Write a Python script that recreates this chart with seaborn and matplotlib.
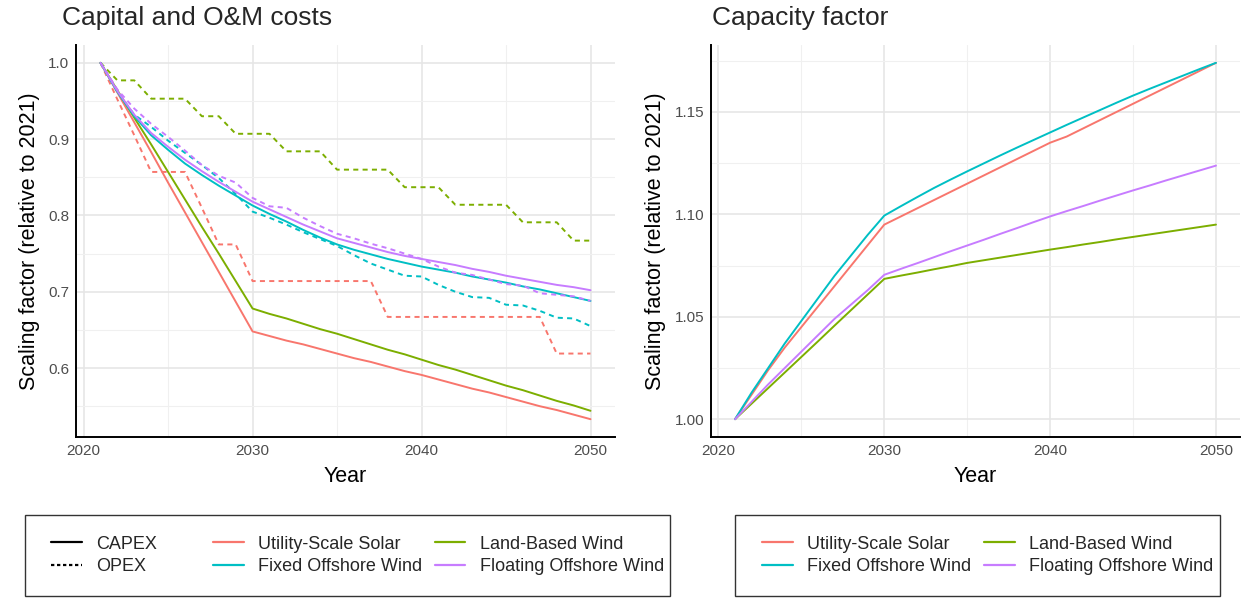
import matplotlib
matplotlib.use("Agg")
import matplotlib.pyplot as plt
from matplotlib.lines import Line2D
from matplotlib.patches import Rectangle
from matplotlib.ticker import MultipleLocator, FormatStrFormatter
import pandas as pd
import seaborn as sns

# ---- data -------------------------------------------------------------
years = list(range(2021, 2051))
techs = ["Utility-Scale Solar", "Land-Based Wind",
         "Fixed Offshore Wind", "Floating Offshore Wind"]
colors = ["#F8766D", "#7CAE00", "#00BFC4", "#C77CFF"]

solar_capex = [1.000, 0.961, 0.922, 0.883, 0.843, 0.804, 0.765, 0.726, 0.687, 0.648,
               0.642, 0.636, 0.631, 0.625, 0.619, 0.613, 0.608, 0.602, 0.596, 0.591,
               0.585, 0.579, 0.573, 0.568, 0.562, 0.556, 0.550, 0.545, 0.539, 0.533]
land_capex = [1.000, 0.964, 0.928, 0.893, 0.857, 0.821, 0.785, 0.750, 0.714, 0.678,
              0.671, 0.665, 0.658, 0.651, 0.645, 0.638, 0.631, 0.624, 0.618, 0.611,
              0.604, 0.598, 0.591, 0.584, 0.577, 0.571, 0.564, 0.557, 0.551, 0.544]
fixed_capex = [1.000, 0.962, 0.930, 0.905, 0.886, 0.868, 0.853, 0.839, 0.826, 0.813,
               0.802, 0.792, 0.781, 0.771, 0.762, 0.755, 0.749, 0.743, 0.738, 0.733,
               0.729, 0.725, 0.720, 0.716, 0.712, 0.707, 0.703, 0.698, 0.693, 0.688]
floating_capex = [1.000, 0.963, 0.932, 0.908, 0.890, 0.873, 0.858, 0.844, 0.831, 0.818,
                  0.808, 0.798, 0.788, 0.779, 0.770, 0.764, 0.758, 0.752, 0.747, 0.743,
                  0.739, 0.735, 0.730, 0.726, 0.721, 0.717, 0.713, 0.709, 0.706, 0.702]

solar_opex = [1.000, 0.952, 0.905, 0.857, 0.857, 0.857, 0.810, 0.762, 0.762, 0.714,
              0.714, 0.714, 0.714, 0.714, 0.714, 0.714, 0.714, 0.667, 0.667, 0.667,
              0.667, 0.667, 0.667, 0.667, 0.667, 0.667, 0.667, 0.619, 0.619, 0.619]
land_opex = [1.000, 0.977, 0.977, 0.953, 0.953, 0.953, 0.930, 0.930, 0.907, 0.907,
             0.907, 0.884, 0.884, 0.884, 0.860, 0.860, 0.860, 0.860, 0.837, 0.837,
             0.837, 0.814, 0.814, 0.814, 0.814, 0.791, 0.791, 0.791, 0.767, 0.767]
fixed_opex = [1.000, 0.962, 0.932, 0.916, 0.898, 0.882, 0.866, 0.849, 0.828, 0.805,
              0.797, 0.788, 0.778, 0.769, 0.760, 0.748, 0.737, 0.729, 0.721, 0.720,
              0.709, 0.700, 0.693, 0.692, 0.683, 0.682, 0.675, 0.666, 0.665, 0.655]
floating_opex = [1.000, 0.965, 0.940, 0.920, 0.903, 0.885, 0.866, 0.852, 0.843, 0.823,
                 0.812, 0.810, 0.797, 0.786, 0.776, 0.770, 0.763, 0.757, 0.750, 0.743,
                 0.733, 0.725, 0.722, 0.716, 0.710, 0.708, 0.698, 0.696, 0.694, 0.688]

solar_cf = [1.000, 1.012, 1.024, 1.035, 1.045, 1.055, 1.065, 1.075, 1.085, 1.095,
            1.099, 1.103, 1.107, 1.111, 1.115, 1.119, 1.123, 1.127, 1.131, 1.135,
            1.138, 1.142, 1.146, 1.150, 1.154, 1.158, 1.162, 1.166, 1.170, 1.174]
land_cf = [1.000, 1.0076, 1.0152, 1.0228, 1.0304, 1.0380, 1.0457, 1.0533, 1.0609, 1.0685,
           1.0701, 1.0716, 1.0732, 1.0747, 1.0763, 1.0776, 1.0789, 1.0802, 1.0815, 1.0828,
           1.0840, 1.0853, 1.0865, 1.0878, 1.0890, 1.0902, 1.0914, 1.0926, 1.0938, 1.0950]
fixed_cf = [1.000, 1.013, 1.025, 1.037, 1.048, 1.059, 1.070, 1.080, 1.090, 1.0994,
            1.1040, 1.1085, 1.1129, 1.1170, 1.1210, 1.1249, 1.1288, 1.1326, 1.1363, 1.1400,
            1.1437, 1.1473, 1.1509, 1.1545, 1.1580, 1.1613, 1.1645, 1.1677, 1.1709, 1.1740]
floating_cf = [1.000, 1.0085, 1.017, 1.025, 1.033, 1.041, 1.049, 1.056, 1.063, 1.0705,
               1.0734, 1.0762, 1.0791, 1.0820, 1.0848, 1.0876, 1.0905, 1.0933, 1.0962, 1.0990,
               1.1016, 1.1041, 1.1067, 1.1092, 1.1117, 1.1141, 1.1166, 1.1190, 1.1214, 1.1238]

cost_series = {
    "Utility-Scale Solar": (solar_capex, solar_opex),
    "Land-Based Wind": (land_capex, land_opex),
    "Fixed Offshore Wind": (fixed_capex, fixed_opex),
    "Floating Offshore Wind": (floating_capex, floating_opex),
}
cf_series = {
    "Utility-Scale Solar": solar_cf,
    "Land-Based Wind": land_cf,
    "Fixed Offshore Wind": fixed_cf,
    "Floating Offshore Wind": floating_cf,
}

cost_rows = []
for tech, (capex, opex) in cost_series.items():
    for yr, c, o in zip(years, capex, opex):
        cost_rows.append((tech, "CAPEX", yr, c))
        cost_rows.append((tech, "OPEX", yr, o))
cost_df = pd.DataFrame(cost_rows, columns=["Technology", "Cost", "Year", "Scaling"])

cf_rows = []
for tech, vals in cf_series.items():
    for yr, v in zip(years, vals):
        cf_rows.append((tech, yr, v))
cf_df = pd.DataFrame(cf_rows, columns=["Technology", "Year", "Scaling"])

palette = dict(zip(techs, colors))

# ---- style ------------------------------------------------------------
sns.set_theme(style="white")
plt.rcParams["font.family"] = ["Liberation Sans", "DejaVu Sans"]

W, H = 1245, 598
fig = plt.figure(figsize=(W / 100, H / 100), dpi=100)


def px_axes(left, top, right, bottom):
    return fig.add_axes([left / W, 1 - bottom / H, (right - left) / W, (bottom - top) / H])


def expanded(lo, hi, frac=0.05):
    pad = (hi - lo) * frac
    return lo - pad, hi + pad


def style_axes(ax, ylo, yhi, ymajor):
    ax.set_xlim(*expanded(years[0], years[-1]))
    ax.set_ylim(*expanded(ylo, yhi))
    ax.xaxis.set_major_locator(MultipleLocator(10))
    ax.xaxis.set_minor_locator(MultipleLocator(5))
    ax.yaxis.set_major_locator(MultipleLocator(ymajor))
    ax.yaxis.set_minor_locator(MultipleLocator(ymajor / 2))
    ax.grid(which="major", color="#E6E6E6", lw=1.2, zorder=0)
    ax.grid(which="minor", color="#F0F0F0", lw=0.8, zorder=0)
    ax.set_axisbelow(True)
    for s in ("top", "right"):
        ax.spines[s].set_visible(False)
    for s in ("left", "bottom"):
        ax.spines[s].set_color("black")
        ax.spines[s].set_linewidth(1.4)
    ax.tick_params(which="both", length=0, pad=5, labelsize=11, colors="#4D4D4D")
    ax.set_xlabel("Year", fontsize=15.5, color="black", labelpad=6)
    ax.set_ylabel("Scaling factor (relative to 2021)", fontsize=15.5, color="black", labelpad=6)


# ---- left panel: capital and O&M costs ---------------------------------
ax1 = px_axes(76, 45, 615, 437)
sns.lineplot(data=cost_df, x="Year", y="Scaling", hue="Technology", style="Cost",
             hue_order=techs, style_order=["CAPEX", "OPEX"], palette=palette,
             dashes={"CAPEX": "", "OPEX": (2.6, 2.2)}, lw=1.4,
             estimator=None, legend=False, ax=ax1)
style_axes(ax1, min(solar_capex), 1.0, 0.1)
ax1.yaxis.set_major_formatter(FormatStrFormatter("%.1f"))

# ---- right panel: capacity factor --------------------------------------
ax2 = px_axes(711, 45, 1240, 437)
sns.lineplot(data=cf_df, x="Year", y="Scaling", hue="Technology",
             hue_order=techs, palette=palette, lw=1.4,
             estimator=None, legend=False, ax=ax2)
style_axes(ax2, 1.0, max(fixed_cf), 0.05)
ax2.yaxis.set_major_formatter(FormatStrFormatter("%.2f"))

fig.text(62 / W, 1 - 18 / H, "Capital and O&M costs", fontsize=19,
         ha="left", va="center")
fig.text(712 / W, 1 - 18 / H, "Capacity factor", fontsize=19,
         ha="left", va="center")

# ---- legends -------------------------------------------------------------
def line_handle(color, ls="-"):
    return Line2D([], [], color=color, lw=1.6, ls=ls)


def legend_frame(x0, x1, top, bottom):
    fig.add_artist(Rectangle((x0 / W, 1 - bottom / H), (x1 - x0) / W, (bottom - top) / H,
                             transform=fig.transFigure, fill=False,
                             edgecolor="#333333", lw=1.0))


def place_legend(handles, labels, x, ycen, ncol, colspacing=2.0):
    leg = fig.legend(handles, labels, ncol=ncol, loc="center left",
                     bbox_to_anchor=(x / W, 1 - ycen / H), frameon=False,
                     fontsize=13, handlelength=1.7, handletextpad=0.8,
                     labelspacing=0.3, borderpad=0, borderaxespad=0,
                     columnspacing=colspacing)
    return leg


LEG_TOP, LEG_BOTTOM = 515, 596
LEG_MID = (LEG_TOP + LEG_BOTTOM) / 2

# left: line type key and technology key in one frame
legend_frame(25, 670, LEG_TOP, LEG_BOTTOM)
place_legend([line_handle("black"), line_handle("black", (0, (1.5, 1.2)))],
             ["CAPEX", "OPEX"], 51, LEG_MID, 1)
place_legend([line_handle(colors[0]), line_handle(colors[2]),
              line_handle(colors[1]), line_handle(colors[3])],
             [techs[0], techs[2], techs[1], techs[3]], 213, LEG_MID, 2, colspacing=0.68)

# right: technology key
legend_frame(735, 1220, LEG_TOP, LEG_BOTTOM)
place_legend([line_handle(colors[0]), line_handle(colors[2]),
              line_handle(colors[1]), line_handle(colors[3])],
             [techs[0], techs[2], techs[1], techs[3]], 762, LEG_MID, 2, colspacing=0.72)

fig.savefig("out.png", dpi=100)
